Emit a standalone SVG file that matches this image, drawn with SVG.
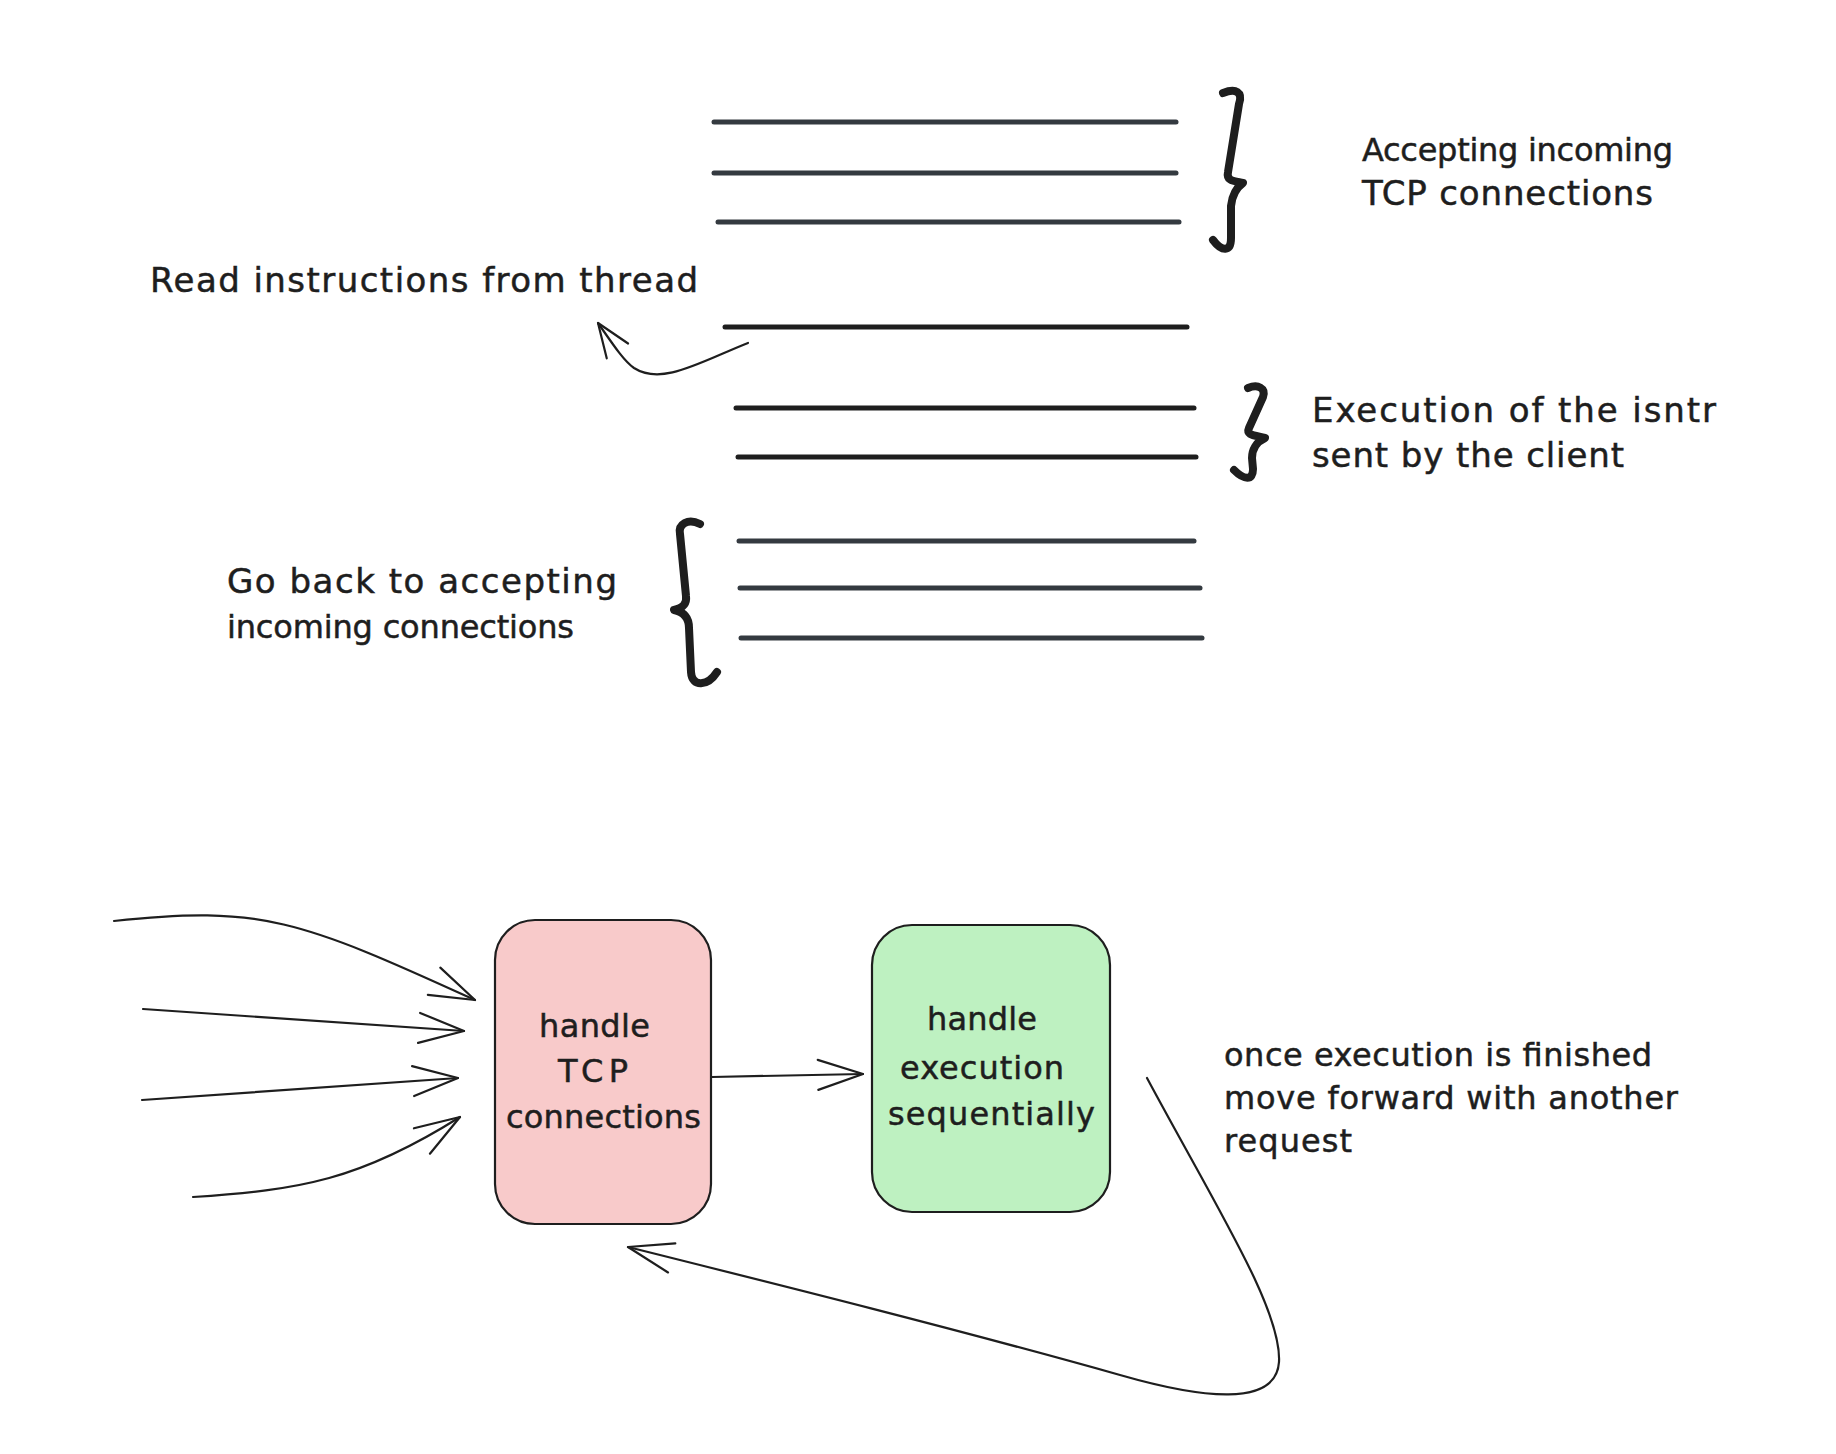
<svg xmlns="http://www.w3.org/2000/svg" width="1836" height="1454" viewBox="0 0 1836 1454">
<style>
.t{font-family:"DejaVu Sans","Liberation Sans",sans-serif;font-size:34px;fill:#1e1e1e;stroke:#1e1e1e;stroke-width:0.5}
.s{font-size:32px}
.ln{stroke:#343a40;stroke-width:5;stroke-linecap:round;fill:none}
.lnd{stroke:#1e1e1e;stroke-width:5;stroke-linecap:round;fill:none}
.br{stroke:#1e1e1e;stroke-width:8;stroke-linecap:round;stroke-linejoin:round;fill:none}
.c{stroke:#1e1e1e;stroke-width:2.2;fill:none;stroke-linecap:round}
.box{stroke:#1e1e1e;stroke-width:2.2}
</style>
<defs>
<marker id="ah" markerUnits="userSpaceOnUse" viewBox="-50 -20 56 40" refX="0" refY="0" markerWidth="56" markerHeight="40" orient="auto" overflow="visible">
<path d="M-45,-15 L0,0 L-45,15" fill="none" stroke="#1e1e1e" stroke-width="2.2" stroke-linecap="round" stroke-linejoin="round"/>
</marker>
<marker id="ahs" markerUnits="userSpaceOnUse" viewBox="-40 -16 46 32" refX="0" refY="0" markerWidth="46" markerHeight="32" orient="auto" overflow="visible">
<path d="M-34,-13 L0,0 L-34,13" fill="none" stroke="#1e1e1e" stroke-width="2.2" stroke-linecap="round" stroke-linejoin="round"/>
</marker>
</defs>
<rect width="1836" height="1454" fill="#ffffff"/>

<g id="thread-lines-accept">
<line class="ln" x1="714" y1="122" x2="1176" y2="122"/>
<line class="ln" x1="714" y1="173" x2="1176" y2="173"/>
<line class="ln" x1="718" y1="222" x2="1179" y2="222"/>
</g>
<g id="brace-accept"><path class="br" d="M1223,93 C1236,88 1243,92 1239,104 L1228,172 C1226,181 1234,181 1243,183 C1236,188 1232,196 1231,206 L1231,238 C1231,252 1222,252 1213,240"/></g>
<g id="label-accept">
<text class="t s" x="1362" y="161" textLength="311" lengthAdjust="spacing">Accepting incoming</text>
<text class="t" x="1362" y="205" textLength="291" lengthAdjust="spacing">TCP connections</text>
</g>

<g id="label-read"><text class="t" x="150" y="292" textLength="548" lengthAdjust="spacing">Read instructions from thread</text></g>

<g id="thread-lines-exec">
<line class="lnd" x1="725" y1="327" x2="1187" y2="327"/>
<line class="lnd" x1="736" y1="408" x2="1194" y2="408"/>
<line class="lnd" x1="738" y1="457" x2="1196" y2="457"/>
</g>
<g id="brace-exec"><path class="br" d="M1248,388 C1258,384 1266,388 1263,397 L1249,428 C1246,435 1253,435 1265,438 C1256,442 1252,450 1252,458 L1253,469 C1253,481 1244,480 1234,470"/></g>
<g id="label-exec">
<text class="t" x="1312" y="422" textLength="404" lengthAdjust="spacing">Execution of the isntr</text>
<text class="t" x="1312" y="467" textLength="312" lengthAdjust="spacing">sent by the client</text>
</g>

<g id="thread-lines-back">
<line class="ln" x1="739" y1="541" x2="1194" y2="541"/>
<line class="ln" x1="740" y1="588" x2="1200" y2="588"/>
<line class="ln" x1="741" y1="638" x2="1202" y2="638"/>
</g>
<g id="brace-back"><path class="br" d="M700,524 C688,518 678,524 680,534 L686,596 C687,604 683,608 674,610 C684,612 689,618 689,628 L691,672 C692,688 708,686 717,672"/></g>
<g id="label-back">
<text class="t" x="227" y="593" textLength="390" lengthAdjust="spacing">Go back to accepting</text>
<text class="t s" x="227" y="638" textLength="347" lengthAdjust="spacing">incoming connections</text>
</g>

<g id="node-tcp">
<rect class="box" x="495" y="920" width="216" height="304" rx="40" fill="#f8caca"/>
<text class="t s" x="539" y="1037" textLength="111" lengthAdjust="spacing">handle</text>
<text class="t s" x="558" y="1082" textLength="70" lengthAdjust="spacing">TCP</text>
<text class="t s" x="506" y="1128" textLength="195" lengthAdjust="spacing">connections</text>
</g>

<g id="node-exec">
<rect class="box" x="872" y="925" width="238" height="287" rx="40" fill="#bef1c1"/>
<text class="t s" x="927" y="1030" textLength="110" lengthAdjust="spacing">handle</text>
<text class="t s" x="900" y="1079" textLength="164" lengthAdjust="spacing">execution</text>
<text class="t s" x="888" y="1125" textLength="207" lengthAdjust="spacing">sequentially</text>
</g>

<g id="label-loop">
<text class="t s" x="1224" y="1066" textLength="428" lengthAdjust="spacing">once execution is finished</text>
<text class="t s" x="1224" y="1109" textLength="454" lengthAdjust="spacing">move forward with another</text>
<text class="t s" x="1224" y="1152" textLength="128" lengthAdjust="spacing">request</text>
</g>

<g id="connectors">
<path class="c" marker-end="url(#ahs)" d="M748,343 C700,362 662,386 634,368 C624,361 614,346 598,323"/>
<path class="c" marker-end="url(#ah)" d="M114,921 C260,905 300,920 475,1000"/>
<path class="c" marker-end="url(#ah)" d="M143,1009 L464,1031"/>
<path class="c" marker-end="url(#ah)" d="M142,1100 L458,1078"/>
<path class="c" marker-end="url(#ah)" d="M193,1197 C300,1190 360,1180 460,1117"/>
<path class="c" marker-end="url(#ah)" d="M712,1077 L863,1074"/>
<path class="c" marker-end="url(#ah)" d="M1147,1078 C1215,1205 1282,1310 1279,1362 C1276,1408 1200,1398 1120,1375 C960,1330 780,1285 628,1247"/>
</g>
</svg>
